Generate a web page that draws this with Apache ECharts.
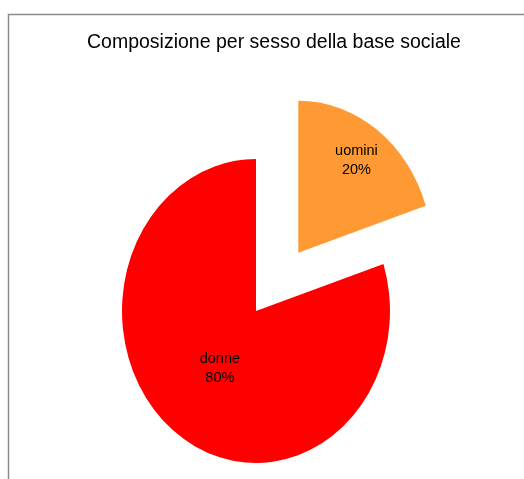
<!DOCTYPE html>
<html>
<head>
<meta charset="utf-8">
<script src="https://cdn.jsdelivr.net/npm/echarts@6/dist/echarts.min.js"></script>
<style>
html,body{margin:0;padding:0;background:#fff;}
#chart{width:524px;height:479px;}
</style>
</head>
<body>
<div id="chart"></div>
<script>
const titleText = 'Composizione per sesso della base sociale';
const categories = ['uomini', 'donne'];
const values = [20, 80];
const colors = ['#FF9933', '#FF0000'];

const CX = 256, CY = 311, R = 134, SY = 152 / 134;
const labelShift = [[17, -36], [5, 1]];

const chart = echarts.init(document.getElementById('chart'), null, {renderer: 'canvas'});
chart.setOption({
  animation: false,
  backgroundColor: '#fff',
  title: {
    text: titleText,
    left: 82,
    top: 28,
    textStyle: {fontFamily: 'Liberation Sans, Arial', fontSize: 19.5, fontWeight: 'normal', color: '#000'}
  },
  graphic: [{
    type: 'rect', silent: true,
    shape: {x: 8.5, y: 14.5, width: 600, height: 600},
    style: {fill: 'none', stroke: '#8c8c8c', lineWidth: 1.5}
  }],
  series: [{
    type: 'pie',
    center: [CX, CY],
    radius: [0, R],
    startAngle: 90,
    clockwise: true,
    selectedMode: 'multiple',
    selectedOffset: 72,
    avoidLabelOverlap: false,
    emphasis: {disabled: true},
    label: {
      show: true, position: 'inside',
      formatter: '{b}\n{d}%',
      fontFamily: 'Liberation Sans, Arial', fontSize: 14.5, color: '#000', lineHeight: 19
    },
    labelLine: {show: false},
    labelLayout: function (p) {
      const s = labelShift[p.dataIndex] || [0, 0];
      return {dx: s[0], dy: s[1]};
    },
    data: categories.map((c, i) => ({
      name: c, value: values[i], selected: i === 0,
      itemStyle: {color: colors[i]}
    }))
  }]
});

// stretch the pie into the reference's vertical ellipse
const zr = chart.getZr();
zr.storage.getDisplayList(true).forEach(el => {
  if (el.type === 'sector') {
    el.originX = CX; el.originY = CY; el.scaleY = SY;
    el.markRedraw();
  }
});
zr.refreshImmediately();
</script>
</body>
</html>
